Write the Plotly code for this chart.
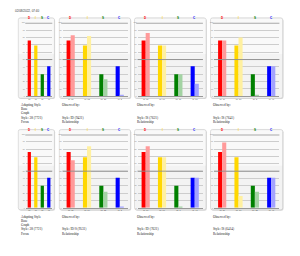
import plotly.graph_objects as go

W, H = 300, 256

# ---------------- data ----------------
title_text = "02/08/2022, 07:40"
categories = ["D", "I", "S", "C"]
base_colors = ["#ff0000", "#ffd700", "#008000", "#0000ff"]
obs_colors = ["#ff9a9a", "#fff0a0", "#a3d3a3", "#a3a3ff"]
y_ticks = [0, 10, 20, 30, 40, 50, 60, 70, 80, 90, 100]

self_values = [76, 69, 30, 41]
observed_row1 = [[83, 82, 23, 2], [86, 69, 30, 17], [76, 80, 1.5, 41]]
observed_row2 = [[65, 84, 22, 2], [84, 69, 1, 41], [89, 16, 22, 41]]

self_caption = ["Adapting Style", "Base", "Graph", "Style: 38 (7721)", "Focus"]
obs_captions_row1 = [
    ["Observed by:", "", "", "Style: ID (9421)", "Relationship"],
    ["Observed by:", "", "", "Style: IS (7621)", "Relationship"],
    ["Observed by:", "", "", "Style: IS (7641)", "Relationship"],
]
obs_captions_row2 = [
    ["Observed by:", "", "", "Style: ID/S (9531)", "Relationship"],
    ["Observed by:", "", "", "Style: ID (7621)", "Relationship"],
    ["Observed by:", "", "", "Style: IS (6414)", "Relationship"],
]

# ---------------- geometry (pixels) ----------------
box_x = [(18.3, 54.3), (59.3, 130.5), (134.5, 206.0), (210.5, 282.7)]
plot_x = [(25.8, 52.3), (62.5, 127.9), (137.5, 202.9), (214.0, 279.4)]
row_box_top = [17.0, 129.5]
BOX_H = 81.0
PLOT_TOP = 5.0
PLOT_BOT = 79.0
CAP_Y0 = 87.7
CAP_DY = 4.3


def px(x):
    return x / W


def py(y):
    return 1 - y / H


def rounded_rect(x0, y0, x1, y1, r=2.0):
    X0, X1 = px(x0), px(x1)
    Y0, Y1 = py(y0), py(y1)
    rx, ry = r / W, r / H
    return (f"M{X0+rx},{Y0} L{X1-rx},{Y0} Q{X1},{Y0} {X1},{Y0-ry} "
            f"L{X1},{Y1+ry} Q{X1},{Y1} {X1-rx},{Y1} L{X0+rx},{Y1} "
            f"Q{X0},{Y1} {X0},{Y1+ry} L{X0},{Y0-ry} Q{X0},{Y0} {X0+rx},{Y0} Z")


fig = go.Figure()
shapes = []
annotations = []
layout_axes = {}

ax = 0
for r in range(2):
    top = row_box_top[r]
    observed = observed_row1 if r == 0 else observed_row2
    captions = [self_caption] + (obs_captions_row1 if r == 0 else obs_captions_row2)
    for c in range(4):
        ax += 1
        xa = "x" if ax == 1 else f"x{ax}"
        ya = "y" if ax == 1 else f"y{ax}"
        xkey = "xaxis" if ax == 1 else f"xaxis{ax}"
        ykey = "yaxis" if ax == 1 else f"yaxis{ax}"

        bx0, bx1 = box_x[c]
        # shadow + panel box
        shapes.append(dict(type="path", xref="paper", yref="paper",
                           path=rounded_rect(bx0 + 0.8, top + 0.8, bx1 + 0.8, top + BOX_H + 0.8),
                           fillcolor="#d8d8d8", line=dict(width=0), layer="below"))
        shapes.append(dict(type="path", xref="paper", yref="paper",
                           path=rounded_rect(bx0, top, bx1, top + BOX_H),
                           fillcolor="#f3f3f3", line=dict(color="#c9c9c9", width=0.6),
                           layer="below"))
        # lighter upper part to mimic gradient
        shapes.append(dict(type="rect", xref="paper", yref="paper",
                           x0=px(bx0 + 0.6), x1=px(bx1 - 0.6),
                           y0=py(top + BOX_H * 0.45), y1=py(top + 1.2),
                           fillcolor="#f9f9f9", line=dict(width=0), layer="below"))

        if c == 0:
            fig.add_trace(go.Bar(x=categories, y=self_values, marker_color=base_colors,
                                 marker_line_width=0, xaxis=xa, yaxis=ya,
                                 showlegend=False, hoverinfo="skip"))
            ticktext = [f"{v:g}" for v in self_values]
        else:
            obs = observed[c - 1]
            fig.add_trace(go.Bar(x=categories, y=self_values, marker_color=base_colors,
                                 marker_line_width=0, xaxis=xa, yaxis=ya,
                                 showlegend=False, hoverinfo="skip"))
            fig.add_trace(go.Bar(x=categories, y=obs, marker_color=obs_colors,
                                 marker_line_width=0, xaxis=xa, yaxis=ya,
                                 showlegend=False, hoverinfo="skip"))
            ticktext = [f"{a:g}  {b:.0f}" for a, b in zip(self_values, obs)]

        x0, x1 = plot_x[c]
        layout_axes[xkey] = dict(domain=[px(x0), px(x1)], anchor=ya, type="category",
                                 categoryorder="array", categoryarray=categories,
                                 tickvals=categories, ticktext=ticktext,
                                 tickfont=dict(size=2, color="#555555", family="Liberation Sans"),
                                 showgrid=False, zeroline=False,
                                 showline=True, linecolor="#999999", linewidth=0.8,
                                 ticks="", fixedrange=True)
        layout_axes[ykey] = dict(domain=[py(top + PLOT_BOT), py(top + PLOT_TOP)], anchor=xa,
                                 range=[0, 100], tickvals=y_ticks,
                                 ticktext=[str(t) for t in y_ticks],
                                 tickfont=dict(size=1.8, color="#777777", family="Liberation Sans"),
                                 showgrid=True, gridcolor="#cdcdcd", gridwidth=0.6,
                                 zeroline=False, showline=False, ticks="", fixedrange=True)
        # emphasised lines at 50 and 100
        shapes.append(dict(type="line", xref=f"{xa} domain", yref=ya, x0=0, x1=1, y0=50, y1=50,
                           line=dict(color="#8c8c8c", width=0.9)))
        shapes.append(dict(type="line", xref=f"{xa} domain", yref=ya, x0=-0.02, x1=1.0,
                           y0=100, y1=100, line=dict(color="#a9a9a9", width=2)))
        # DISC letters
        for cat, col in zip(categories, base_colors):
            annotations.append(dict(x=cat, y=1, xref=xa, yref=f"{ya} domain",
                                    text=f"<b>{cat}</b>", showarrow=False,
                                    yanchor="bottom", yshift=0.6,
                                    font=dict(size=3, color=col, family="Liberation Sans")))
        # captions
        for i, line in enumerate(captions[c]):
            if not line:
                continue
            annotations.append(dict(x=px(bx0 + 0.5), y=py(top + CAP_Y0 + i * CAP_DY),
                                    xref="paper", yref="paper", xanchor="left",
                                    yanchor="middle", text=line, showarrow=False,
                                    font=dict(size=3.3, color="#222222",
                                              family="Liberation Serif")))

annotations.append(dict(x=px(12.7), y=py(10), xref="paper", yref="paper",
                        xanchor="left", yanchor="middle", text=title_text,
                        showarrow=False,
                        font=dict(size=3, color="#333333", family="Liberation Sans")))

fig.update_layout(width=W, height=H, margin=dict(l=0, r=0, t=0, b=0),
                  paper_bgcolor="white", plot_bgcolor="rgba(0,0,0,0)",
                  barmode="group", bargap=0.5, bargroupgap=0,
                  shapes=shapes, annotations=annotations, **layout_axes)

fig.write_html("out.html")
